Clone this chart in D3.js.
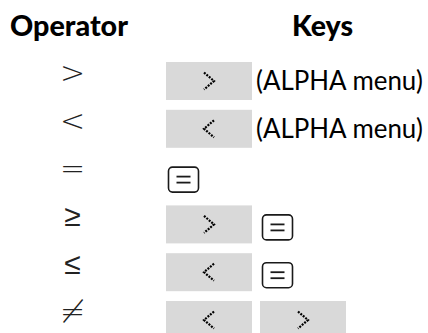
<!DOCTYPE html>
<html>
<head>
<meta charset="utf-8">
<script src="https://cdn.jsdelivr.net/npm/d3@7"></script>
<style>
html,body{margin:0;padding:0;background:#fff;}
svg{display:block;}
</style>
</head>
<body>
<div id="chart"></div>
<script>
const headers = ["Operator", "Keys"];
const operators = [">", "<", "=", "\u2265", "\u2264", "\u2260"];
const keyRows = [[">"], ["<"], ["="], [">", "="], ["<", "="], ["<", ">"]];
const notes = ["(ALPHA menu)", "(ALPHA menu)", "", "", "", ""];

const W = 428, H = 333;
const svg = d3.select("#chart").append("svg").attr("width", W).attr("height", H);

const rowIdx = d3.range(operators.length);
const y = d3.scalePoint().domain(rowIdx).range([81, 320]);
const slotX = d3.scalePoint().domain([0, 1]).range([166, 260]);

// headers
svg.append("text").attr("x", 10).attr("y", 36)
  .attr("font-family", "Lato, 'DejaVu Sans', sans-serif").attr("font-weight", 900)
  .attr("font-size", 29).attr("textLength", 118).attr("lengthAdjust", "spacingAndGlyphs")
  .attr("fill", "#000").text(headers[0]);
svg.append("text").attr("x", 292).attr("y", 36)
  .attr("font-family", "Lato, 'DejaVu Sans', sans-serif").attr("font-weight", 900)
  .attr("font-size", 29).attr("textLength", 61).attr("lengthAdjust", "spacingAndGlyphs")
  .attr("fill", "#000").text(headers[1]);

// operator symbols
svg.selectAll("text.op").data(operators).join("text").attr("class", "op")
  .attr("x", 72.5).attr("y", (d, i) => y(i) + 2)
  .attr("text-anchor", "middle")
  .attr("font-family", "'DejaVu Sans', sans-serif").attr("font-weight", 200)
  .attr("font-size", 30).attr("fill", "#222").text(d => d);

// keys
const boxW = 86, boxH = 38;
rowIdx.forEach(i => {
  const cy = y(i);
  keyRows[i].forEach((k, j) => {
    const x0 = slotX(j);
    const g = svg.append("g");
    if (k === "=") {
      const kx = x0 + 2.5, ky = cy - 9.5, kw = 30, kh = 25;
      g.append("rect").attr("x", kx).attr("y", ky).attr("width", kw).attr("height", kh)
        .attr("rx", 4).attr("fill", "#fff").attr("stroke", "#1a1a1a").attr("stroke-width", 1.6);
      const mx = kx + kw / 2, my = ky + kh / 2;
      [-3, 3].forEach(dy => {
        g.append("line").attr("x1", mx - 7).attr("x2", mx + 7)
          .attr("y1", my + dy).attr("y2", my + dy)
          .attr("stroke", "#1a1a1a").attr("stroke-width", 1.8);
      });
    } else {
      g.append("rect").attr("x", x0).attr("y", cy - boxH / 2).attr("width", boxW).attr("height", boxH)
        .attr("fill", "#d9d9d9");
      const cx = x0 + boxW / 2;
      const dir = k === ">" ? 1 : -1;
      const p = d3.path();
      p.moveTo(cx - 5 * dir, cy - 8.5);
      p.lineTo(cx + 5 * dir, cy);
      p.lineTo(cx - 5 * dir, cy + 8.5);
      g.append("path").attr("d", p.toString()).attr("fill", "none")
        .attr("stroke", "#000").attr("stroke-width", 2.2)
        .attr("stroke-dasharray", "2 1.2");
    }
  });
  if (notes[i]) {
    svg.append("text").attr("x", 256).attr("y", cy + 9)
      .attr("font-family", "Lato, 'DejaVu Sans', sans-serif").attr("font-size", 26)
      .attr("textLength", 167).attr("lengthAdjust", "spacingAndGlyphs")
      .attr("fill", "#000").text(notes[i]);
  }
});
</script>
</body>
</html>
